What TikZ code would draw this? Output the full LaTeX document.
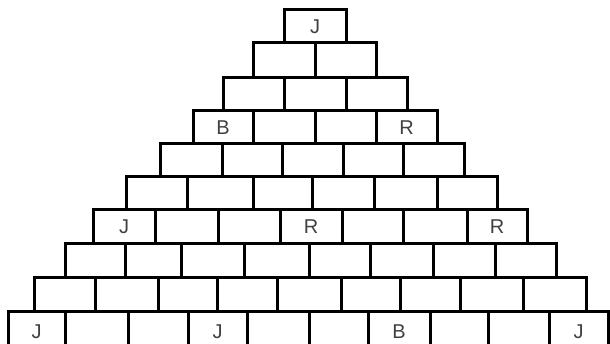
\documentclass[tikz,border=0pt]{standalone}
\usepackage{fontspec}
\setmainfont{Liberation Sans}
\newcommand\mybrick[6]{\node[brick, minimum width={#3-#2}, minimum height={#5-#4}] (#1) at ({(#2+#3)/2},{(#4+#5)/2}) {#6};}
\begin{document}
\begin{tikzpicture}[x=1pt,y=-1pt,
  brick/.style={draw=black, line width=3pt, rectangle, inner sep=0pt, outer sep=0pt,
    font=\fontsize{20}{20}\selectfont, text=black!75}]
\useasboundingbox (0,0) rectangle (610,344);
\clip (0,0) rectangle (610,344);
\foreach \xa/\xb/\t [count=\i] in {284/346/J}
  {\mybrick{r1c\i}{\xa}{\xb}{10}{43}{\t}}
\foreach \xa/\xb/\t [count=\i] in {253/315/{},315/376/{}}
  {\mybrick{r2c\i}{\xa}{\xb}{43}{78}{\t}}
\foreach \xa/\xb/\t [count=\i] in {223/284/{},284/346/{},346/407/{}}
  {\mybrick{r3c\i}{\xa}{\xb}{78}{111}{\t}}
\foreach \xa/\xb/\t [count=\i] in {193/253/B,253/315/{},315/376/{},376/437/R}
  {\mybrick{r4c\i}{\xa}{\xb}{111}{144}{\t}}
\foreach \xa/\xb/\t [count=\i] in {160/222/{},222/282/{},282/343/{},343/403/{},403/464/{}}
  {\mybrick{r5c\i}{\xa}{\xb}{144}{177}{\t}}
\foreach \xa/\xb/\t [count=\i] in {126/187/{},187/253/{},253/312/{},312/374/{},374/437/{},437/497/{}}
  {\mybrick{r6c\i}{\xa}{\xb}{177}{210}{\t}}
\foreach \xa/\xb/\t [count=\i] in {93/155/J,155/218/{},218/280/{},280/342/R,342/403/{},403/467/{},467/527/R}
  {\mybrick{r7c\i}{\xa}{\xb}{210}{244}{\t}}
\foreach \xa/\xb/\t [count=\i] in {65/125/{},125/181/{},181/244/{},244/309/{},309/370/{},370/433/{},433/495/{},495/556/{}}
  {\mybrick{r8c\i}{\xa}{\xb}{244}{278}{\t}}
\foreach \xa/\xb/\t [count=\i] in {34/95/{},95/158/{},158/217/{},217/277/{},277/341/{},341/400/{},400/460/{},460/523/{},523/586/{}}
  {\mybrick{r9c\i}{\xa}{\xb}{278}{312}{\t}}
\foreach \xa/\xb/\t [count=\i] in {8/65/J,65/128/{},128/188/{},188/247/J,247/309/{},309/368/{},368/430/B,430/488/{},488/549/{},549/608/J}
  {\mybrick{r10c\i}{\xa}{\xb}{312}{352}{\t}}
\end{tikzpicture}
\end{document}
